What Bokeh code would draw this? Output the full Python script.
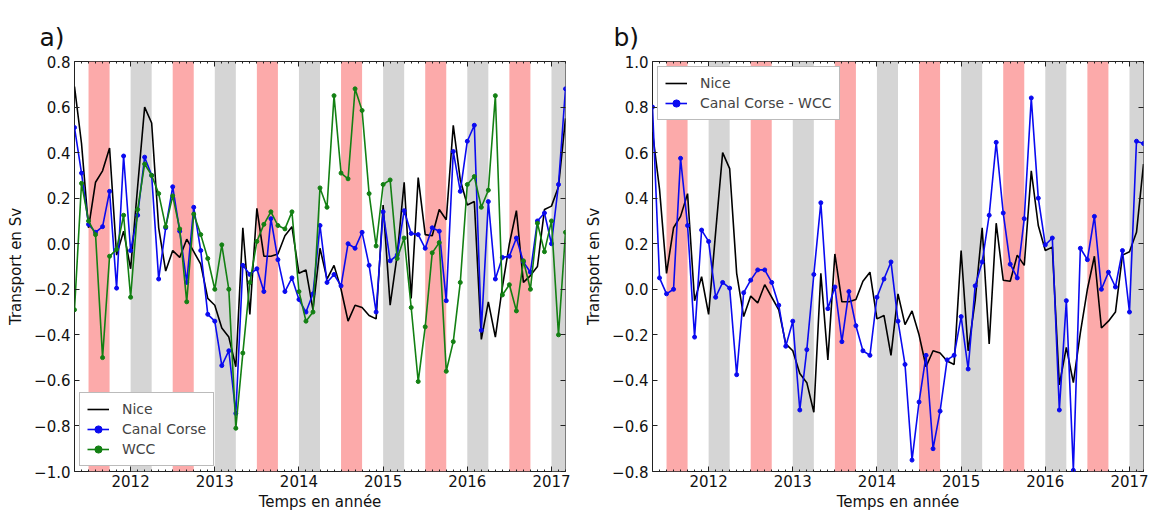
import pandas as pd
from bokeh.plotting import figure
from bokeh.layouts import row
from bokeh.models import (FixedTicker, LinearAxis, BoxAnnotation, Legend,
                          LegendItem, Range1d, CustomJSTickFormatter)
from bokeh.embed import file_html
from bokeh.resources import INLINE

# ---------------- data (monthly, May 2011 -> March 2017) ----------------
start_month = "2011-05-01"

nice = [0.69, 0.44, 0.07, 0.27, 0.32, 0.42, -0.05, 0.055, -0.11, 0.25,
        0.60, 0.53, 0.07, -0.12, -0.03, -0.06, 0.02, -0.035, -0.09, -0.24,
        -0.27, -0.37, -0.41, -0.54, 0.07, -0.31, 0.155, -0.055, -0.055, -0.045,
        0.035, 0.075, -0.13, -0.115, -0.29, -0.02, -0.155, -0.095, -0.20, -0.34,
        -0.27, -0.28, -0.315, -0.33, 0.17, -0.27, -0.05, 0.27, -0.24, 0.29,
        0.04, 0.035, 0.15, 0.105, 0.52, 0.28, 0.17, 0.185, -0.42, -0.255,
        -0.41, -0.19, 0.0, 0.145, -0.17, -0.14, -0.10, 0.15, 0.165, 0.25,
        0.55]

canal_corse = [0.51, 0.31, 0.085, 0.05, 0.075, 0.23, -0.195, 0.385, -0.03, 0.125,
               0.38, 0.30, -0.155, 0.07, 0.25, 0.055, -0.17, 0.16, -0.03, -0.31,
               -0.34, -0.535, -0.47, -0.745, -0.095, -0.135, -0.11, -0.21, 0.11, -0.07,
               -0.21, -0.15, -0.245, -0.30, -0.22, 0.08, -0.17, -0.135, -0.185, 0.0,
               -0.02, 0.05, -0.095, -0.30, 0.14, -0.075, -0.05, 0.145, 0.045, 0.04,
               -0.02, 0.07, 0.055, -0.25, 0.405, 0.23, 0.45, 0.52, -0.38, 0.185,
               -0.155, -0.06, -0.055, 0.025, -0.08, -0.125, 0.10, 0.135, 0.0, 0.26,
               0.68]

wcc = [-0.29, 0.265, 0.10, 0.04, -0.50, -0.055, -0.025, 0.125, -0.235, 0.15,
       0.35, 0.30, 0.22, 0.075, 0.21, 0.065, -0.255, 0.13, 0.04, -0.065,
       -0.20, -0.005, -0.20, -0.81, -0.48, -0.17, 0.01, 0.085, 0.14, 0.08,
       0.065, 0.14, -0.21, -0.34, -0.30, 0.245, 0.16, 0.65, 0.31, 0.285,
       0.68, 0.585, 0.22, -0.01, 0.26, 0.28, -0.065, 0.025, -0.28, -0.605,
       -0.365, -0.04, 0.005, -0.56, -0.43, -0.17, 0.26, 0.295, 0.16, 0.235,
       0.65, -0.225, -0.18, -0.295, -0.075, -0.20, 0.09, -0.035, 0.10, -0.40,
       0.05]

canal_minus_wcc = [0.80, 0.05, -0.02, 0.0, 0.575, 0.28, -0.21, 0.26, 0.21, -0.035,
                   0.03, 0.005, -0.375, -0.015, 0.04, 0.085, 0.085, 0.03, -0.07, -0.25,
                   -0.14, -0.53, -0.265, 0.065, 0.38, -0.085, 0.01, -0.23, -0.01, -0.16,
                   -0.27, -0.29, -0.035, 0.045, 0.12, -0.14, -0.33, -0.75, -0.495, -0.29,
                   -0.70, -0.535, -0.31, -0.29, -0.12, -0.35, 0.015, 0.12, 0.325, 0.645,
                   0.335, 0.11, 0.05, 0.31, 0.84, 0.40, 0.195, 0.225, -0.53, -0.05,
                   -0.795, 0.18, 0.13, 0.32, 0.0, 0.075, 0.01, 0.17, -0.10, 0.65,
                   0.64]

year_ticks = [2012, 2013, 2014, 2015, 2016, 2017]
year_labels = ["2012", "2013", "2014", "2015", "2016", "2017"]

yticks_a = [-1.0, -0.8, -0.6, -0.4, -0.2, 0.0, 0.2, 0.4, 0.6, 0.8]
ylabels_a = ["\u22121.0", "\u22120.8", "\u22120.6", "\u22120.4", "\u22120.2",
             "0.0", "0.2", "0.4", "0.6", "0.8"]
yticks_b = [-0.8, -0.6, -0.4, -0.2, 0.0, 0.2, 0.4, 0.6, 0.8, 1.0]
ylabels_b = ["\u22120.8", "\u22120.6", "\u22120.4", "\u22120.2",
             "0.0", "0.2", "0.4", "0.6", "0.8", "1.0"]

winter_years = [2012, 2013, 2014, 2015, 2016, 2017]   # Jan-Mar shaded grey
summer_years = [2011, 2012, 2013, 2014, 2015, 2016]   # Jul-Sep shaded red

# ---------------- helpers ----------------
dates = pd.date_range(start_month, periods=len(nice), freq="MS")
x = [d.year + (d.month - 1) / 12.0 for d in dates]
month_ticks = list(x)

FONT = "DejaVu Sans"
TICK_FS = "15px"
RED = "#fcaaaa"
GREY = "#d5d5d5"
BLUE = "#0a0af0"
GREEN = "#138013"
BLACK = "#000000"


def empty_axis(ticker):
    ax = LinearAxis(ticker=ticker, formatter=CustomJSTickFormatter(code="return ''"),
                    major_tick_in=5, major_tick_out=0, minor_tick_in=2, minor_tick_out=0,
                    major_label_standoff=0, major_label_text_font_size="0px",
                    axis_line_color=None,
                    major_tick_line_color="#222222", minor_tick_line_color="#222222")
    return ax


def make_panel(letter, y_lo, y_hi, yticks, ylabels, series, legend_loc, bl, br, title_dx):
    p = figure(frame_width=491, frame_height=410,
               x_range=Range1d(x[0], x[-1]), y_range=Range1d(y_lo, y_hi),
               output_backend="svg", toolbar_location=None,
               min_border_left=bl, min_border_right=br,
               min_border_top=61, min_border_bottom=46,
               background_fill_color="white", border_fill_color="white")
    p.grid.visible = False
    p.outline_line_color = "#222222"
    p.outline_line_width = 1

    p.title.text = letter
    p.title.text_font = FONT
    p.title.text_font_size = "25px"
    p.title.text_font_style = "normal"
    p.title.text_color = "#111111"
    p.title.align = "left"
    p.title.offset = title_dx
    p.title.standoff = 19

    for yr in winter_years:
        p.add_layout(BoxAnnotation(left=yr, right=yr + 3 / 12, fill_color=GREY,
                                   fill_alpha=1, line_color=None, level="underlay"))
    for yr in summer_years:
        p.add_layout(BoxAnnotation(left=yr + 6 / 12, right=yr + 9 / 12, fill_color=RED,
                                   fill_alpha=1, line_color=None, level="underlay"))

    items = []
    for name, vals, color, marks in series:
        r = p.line(x, vals, line_color=color, line_width=1.6)
        rs = [r]
        if marks:
            s = p.scatter(x, vals, size=4, marker="circle", fill_color=color, line_color=color)
            rs.append(s)
        items.append(LegendItem(label=name, renderers=rs))

    xa = p.xaxis[0]
    xa.ticker = FixedTicker(ticks=year_ticks, minor_ticks=month_ticks)
    xa.major_label_overrides = {t: l for t, l in zip(year_ticks, year_labels)}
    xa.axis_label = "Temps en année"
    ya = p.yaxis[0]
    ya.ticker = FixedTicker(ticks=yticks)
    ya.major_label_overrides = {t: l for t, l in zip(yticks, ylabels)}
    ya.axis_label = "Transport en Sv"
    for ax in (xa, ya):
        ax.axis_line_color = None
        ax.major_tick_in = 5
        ax.major_tick_out = 0
        ax.minor_tick_in = 2
        ax.minor_tick_out = 0
        ax.major_tick_line_color = "#222222"
        ax.minor_tick_line_color = "#222222"
        ax.major_label_text_font = FONT
        ax.major_label_text_font_size = TICK_FS
        ax.major_label_text_color = "#111111"
        ax.axis_label_text_font = FONT
        ax.axis_label_text_font_size = "15px"
        ax.axis_label_text_font_style = "normal"
        ax.axis_label_text_color = "#111111"
    xa.major_label_standoff = 3
    xa.axis_label_standoff = 3
    ya.major_label_standoff = 4
    ya.axis_label_standoff = 6
    ya.minor_tick_in = 0

    top = empty_axis(FixedTicker(ticks=year_ticks, minor_ticks=month_ticks))
    p.add_layout(top, "above")
    right = empty_axis(FixedTicker(ticks=yticks))
    right.minor_tick_in = 0
    p.add_layout(right, "right")

    leg = Legend(items=items, location=legend_loc, margin=5, padding=7, spacing=2,
                 glyph_width=22, glyph_height=18, label_standoff=13, label_height=18,
                 label_text_font=FONT, label_text_font_size="14px",
                 border_line_color="#777777", border_line_width=1,
                 background_fill_color="white", background_fill_alpha=1)
    p.add_layout(leg)
    return p


p1 = make_panel("a)", -1.0, 0.8, yticks_a, ylabels_a,
                [("Nice", nice, BLACK, False),
                 ("Canal Corse", canal_corse, BLUE, True),
                 ("WCC", wcc, GREEN, True)],
                "bottom_left", 74, 17, -35)
p2 = make_panel("b)", -0.8, 1.0, yticks_b, ylabels_b,
                [("Nice", nice, BLACK, False),
                 ("Canal Corse - WCC", canal_minus_wcc, BLUE, True)],
                "top_left", 66, 12, -39)

layout = row(p1, p2)
open("out.html", "w").write(file_html(layout, INLINE))
